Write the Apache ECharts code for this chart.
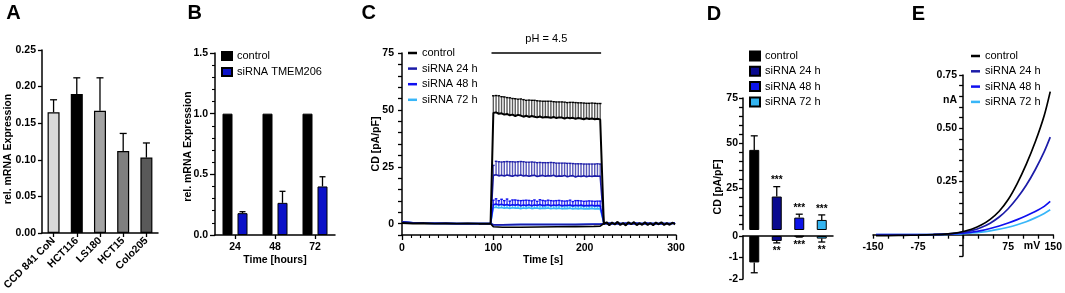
<!DOCTYPE html>
<html>
<head>
<meta charset="utf-8">
<script src="https://cdn.jsdelivr.net/npm/echarts@6/dist/echarts.min.js"></script>
<style>
  html, body { margin: 0; padding: 0; background: #fff; }
  #chart { width: 1065px; height: 293px; }
</style>
</head>
<body>
<div id="chart"></div>
<script>
// ---- A: TMEM206 expression in cell lines
const cellLines = ["CCD 841 CoN", "HCT116", "LS180", "HCT15", "Colo205"];
const cellExpr = [0.165, 0.19, 0.167, 0.112, 0.103];
const cellErr = [0.017, 0.022, 0.045, 0.024, 0.02];

// ---- B: knockdown time course
const hours = ["24", "48", "72"];
const ctrlExpr = [1, 1, 1];
const sirnaExpr = [0.18, 0.265, 0.4];
const sirnaErr = [0.012, 0.095, 0.08];

// ---- C: current density over time
const tPre = [0, 12, 24, 36, 48, 60, 72, 84, 97];
const tPulse = [100, 103, 106, 109, 112, 115, 118, 121, 124, 127, 130, 133, 136, 139, 142, 145, 148, 151, 154, 157,
  160, 163, 166, 169, 172, 175, 178, 181, 184, 187, 190, 193, 196, 199, 202, 205, 208, 211, 214, 217];
const tPost = [221, 224, 227, 230, 233, 236, 239, 242, 245, 248, 251, 254, 257, 260, 263, 266, 269, 272, 275, 278,
  281, 284, 287, 290, 293, 296, 299];

const ctrlPre = [0.3, 0.1, 0.2, 0.0, 0.1, 0.0, 0.1, 0.0, 0.0];
const siPre = [0.8, 0.4, 0.2, 0.1, 0.1, 0.0, 0.0, 0.0, 0.0];
const ctrlPost = [-0.3, 0.6, -0.7, 0.5, -0.4, 0.8, -0.6, 0.3, -0.8, 0.6, -0.3, 0.7, -0.7, 0.2, -0.5, 0.6, -0.6, 0.3,
  -0.7, 0.5, -0.3, 0.6, -0.6, 0.2, -0.5, 0.4, -0.3];
const siPost = [0.2, 0.0, 0.1, 0.0, 0.0, 0.1, 0.0, 0.0, 0.1, 0.0, 0.0, 0.0, 0.1, 0.0, 0.0, 0.0, 0.1, 0.0, 0.0, 0.0,
  0.0, 0.1, 0.0, 0.0, 0.0, 0.1, 0.3];

const ctrlPulse = [48.6, 48.9, 48.3, 48.5, 47.9, 48.2, 47.6, 47.9, 47.3, 47.8, 47.5, 47.0, 47.4, 46.9, 47.3, 47.0, 46.7,
  47.1, 46.6, 46.9, 46.8, 46.5, 46.9, 46.4, 46.7, 46.6, 46.2, 46.6, 46.3, 46.5, 46.1, 46.4, 46.2, 45.9, 46.3, 46.0,
  46.2, 45.9, 46.1, 45.8];
const ctrlPulseErr = [7.6, 7.4, 7.9, 7.3, 7.8, 7.2, 7.7, 7.1, 7.6, 6.9, 7.3, 7.5, 6.8, 7.4, 6.9, 7.2, 7.3, 6.8, 7.2,
  6.9, 7.0, 7.3, 6.7, 7.1, 6.8, 6.9, 7.2, 6.6, 7.0, 6.8, 7.1, 6.7, 6.9, 7.1, 6.6, 6.9, 6.8, 7.0, 6.7, 7.0];
const si24Pulse = [21.2, 21.5, 21.0, 21.3, 20.9, 21.4, 21.1, 20.8, 21.3, 21.0, 21.4, 20.9, 21.2, 20.8, 21.1, 21.3, 20.7,
  21.0, 21.2, 20.8, 21.1, 20.9, 21.3, 20.7, 21.0, 20.8, 21.2, 20.6, 20.9, 21.1, 20.5, 20.9, 20.7, 21.0, 20.6, 20.9,
  20.7, 21.0, 20.8, 20.9];
const si24PulseErr = [4.4, 5.9, 6.2, 5.8, 6.3, 5.9, 6.1, 6.4, 5.8, 6.2, 5.9, 6.3, 5.8, 6.2, 6.0, 5.7, 6.1, 5.9, 5.6,
  6.0, 5.7, 6.0, 5.5, 5.9, 5.6, 5.8, 5.4, 5.9, 5.6, 5.3, 5.8, 5.4, 5.6, 5.2, 5.6, 5.3, 5.5, 5.2, 5.5, 5.3];
const si48Pulse = [8.3, 8.6, 8.2, 8.5, 8.1, 8.4, 8.0, 8.3, 8.1, 8.4, 7.9, 8.2, 8.0, 8.3, 7.9, 8.2, 8.0, 8.4, 7.9, 8.1,
  8.3, 7.9, 8.2, 8.0, 8.3, 7.8, 8.1, 8.0, 8.2, 7.8, 8.1, 7.9, 8.2, 7.8, 8.0, 7.9, 8.1, 7.8, 8.0, 7.9];
const si48PulseErr = [2.0, 2.3, 1.9, 2.2, 2.0, 2.4, 1.9, 2.1, 2.3, 1.8, 2.2, 2.0, 2.3, 1.9, 2.1, 2.2, 1.8, 2.1, 2.3,
  1.9, 2.0, 2.2, 1.8, 2.1, 1.9, 2.2, 1.8, 2.0, 2.1, 1.9, 2.0, 2.2, 1.8, 2.0, 1.9, 2.1, 1.8, 2.0, 1.9, 2.0];
const si72Pulse = [7.0, 7.2, 6.9, 7.1, 6.8, 7.0, 6.7, 7.0, 6.8, 6.9, 6.6, 6.9, 6.7, 7.0, 6.6, 6.8, 6.9, 6.6, 6.8, 6.7,
  6.9, 6.5, 6.8, 6.6, 6.8, 6.5, 6.7, 6.6, 6.8, 6.4, 6.7, 6.5, 6.7, 6.4, 6.6, 6.5, 6.7, 6.4, 6.6, 6.5];
const si72PulseErr = [1.3, 1.1, 1.4, 1.2, 1.3, 1.0, 1.3, 1.2, 1.4, 1.1, 1.3, 1.2, 1.0, 1.3, 1.2, 1.4, 1.1, 1.2, 1.3,
  1.0, 1.2, 1.3, 1.1, 1.2, 1.0, 1.3, 1.1, 1.2, 1.0, 1.2, 1.1, 1.3, 1.0, 1.1, 1.2, 1.0, 1.1, 1.2, 1.0, 1.1];

// inward current during the pulse
const tNeg = [97, 100, 110, 130, 150, 170, 190, 210, 217, 221];
const ctrlNeg = [0, -1.4, -1.6, -1.6, -1.5, -1.4, -1.3, -1.2, -1.1, 0];
const siNeg = [0, -0.5, -0.5, -0.4, -0.4, -0.4, -0.4, -0.3, -0.3, 0];
const pHOn = 98, pHOff = 218;

// ---- D: summary of current density
const groups = ["control", "siRNA 24 h", "siRNA 48 h", "siRNA 72 h"];
const dOut = [46.2, 20.3, 8.6, 7.3];
const dOutErr = [7.8, 5.5, 1.9, 2.8];
const dIn = [-1.23, -0.23, -0.03, -0.12];
const dInErr = [-0.48, -0.09, -0.02, -0.16];
const starsOut = ["", "***", "***", "***"];
const starsIn = ["", "**", "***", "**"];

// ---- E: I/V curves
const mV = [-145, -125, -100, -75, -50, -25, -10, 0, 15, 30, 45, 60, 75, 90, 105, 120, 135, 145];
const ivCtrl = [-0.004, -0.004, -0.003, -0.002, 0.0, 0.004, 0.009, 0.015, 0.027, 0.045, 0.072, 0.11, 0.165, 0.24,
  0.33, 0.435, 0.56, 0.672];
const iv24 = [-0.002, -0.002, -0.002, -0.001, 0.001, 0.004, 0.008, 0.012, 0.02, 0.034, 0.054, 0.083, 0.122, 0.172,
  0.232, 0.305, 0.39, 0.458];
const iv48 = [0, 0, 0, 0, 0.001, 0.003, 0.005, 0.007, 0.012, 0.019, 0.029, 0.041, 0.055, 0.071, 0.089, 0.109, 0.133,
  0.156];
const iv72 = [0, 0, 0, 0, 0.001, 0.002, 0.003, 0.005, 0.008, 0.012, 0.018, 0.026, 0.035, 0.047, 0.061, 0.079, 0.1,
  0.117];

// tick positions for the broken / offset axes
const cTicks = [-5, 0, 5, 10, 15, 20, 25, 30, 35, 40, 45, 50, 55, 60, 65, 70, 75];
const dTicks = [5, 10, 15, 20, 25, 30, 35, 40, 45, 50, 55, 60, 65, 70, 75];
const eTicks = [-0.1, -0.05, 0.05, 0.1, 0.15, 0.2, 0.25, 0.3, 0.35, 0.4, 0.45, 0.5, 0.55, 0.6, 0.65, 0.7, 0.75];

// styles
const FONT = "Liberation Sans, Arial, Helvetica, sans-serif";
const cellColors = ["#d9d9d9", "#000000", "#a3a3a3", "#7f7f7f", "#595959"];
const traceColors = ["#000000", "#1c1ca8", "#1010f0", "#38b6f8"];
const stemColors = ["#5c5c5c", "#5656b8", "#3a3af0", "#5cc4f8"];
const barColors = ["#000000", "#0a0a8f", "#0d14e8", "#33b4f0"];
const blueB = "#0c12c8";

const axLine = { show: true, onZero: true, lineStyle: { color: "#000", width: 1.5 } };
const lbl = { color: "#000", fontFamily: FONT, fontWeight: "bold", fontSize: 10.5 };
const tk = (len, extra) => Object.assign({ show: true, length: len, lineStyle: { color: "#000", width: 1.3 } }, extra || {});
const noSplit = { show: false };

function errorBars(capW, color, offset, width, stem) {
  return function (params, api) {
    const x = api.value(0), v = api.value(1), e = api.value(2);
    const p0 = api.coord([x, v]);
    const p1 = api.coord([x, v + e]);
    const cx = p0[0] + (offset || 0);
    const w = width || 1.3;
    return {
      type: "group",
      children: [
        { type: "line", shape: { x1: cx, y1: p0[1], x2: cx, y2: p1[1] }, style: { stroke: stem || color, lineWidth: w } },
        { type: "line", shape: { x1: cx - capW / 2, y1: p1[1], x2: cx + capW / 2, y2: p1[1] }, style: { stroke: color, lineWidth: w } }
      ]
    };
  };
}

function starLabels(texts, below) {
  return function (params, api) {
    const p = api.coord([api.value(0), api.value(1)]);
    return {
      type: "text",
      x: p[0],
      y: below ? p[1] + 3 : p[1] - 1,
      style: {
        text: texts[params.dataIndex], fill: "#000", font: "bold 10px " + FONT,
        align: "center", verticalAlign: below ? "top" : "bottom"
      }
    };
  };
}

const series = [];

// A
series.push({
  type: "bar", xAxisIndex: 0, yAxisIndex: 0, barWidth: 12,
  data: cellExpr.map((v, i) => ({ value: v, itemStyle: { color: cellColors[i] } })),
  itemStyle: { borderColor: "#000", borderWidth: 1.2 }
});
series.push({
  type: "custom", xAxisIndex: 0, yAxisIndex: 0, z: 5,
  renderItem: errorBars(7, "#000"),
  data: cellExpr.map((v, i) => [i, v, cellErr[i]])
});

// B
series.push({
  name: "B|control", type: "bar", xAxisIndex: 1, yAxisIndex: 1, barWidth: 10, barGap: "50%",
  data: ctrlExpr, itemStyle: { color: "#000", borderColor: "#000", borderWidth: 1 }
});
series.push({
  name: "B|siRNA TMEM206", type: "bar", xAxisIndex: 1, yAxisIndex: 1, barWidth: 10, barGap: "50%",
  data: sirnaExpr, itemStyle: { color: blueB, borderColor: "#000", borderWidth: 1 }
});
series.push({
  type: "custom", xAxisIndex: 1, yAxisIndex: 1, z: 5,
  renderItem: errorBars(6, "#000", 7.5),
  data: sirnaExpr.map((v, i) => [i, v, sirnaErr[i]])
});

// C
const cTraces = [
  { name: "control", pre: ctrlPre, pulse: ctrlPulse, err: ctrlPulseErr, post: ctrlPost, neg: ctrlNeg },
  { name: "siRNA 24 h", pre: siPre, pulse: si24Pulse, err: si24PulseErr, post: siPost, neg: siNeg },
  { name: "siRNA 48 h", pre: siPre, pulse: si48Pulse, err: si48PulseErr, post: siPost, neg: siNeg },
  { name: "siRNA 72 h", pre: siPre, pulse: si72Pulse, err: si72PulseErr, post: siPost, neg: siNeg }
];
const tAll = tPre.concat(tPulse, tPost);
[3, 2, 1, 0].forEach((k) => {
  const tr = cTraces[k];
  const col = traceColors[k];
  const vals = tr.pre.concat(tr.pulse, tr.post);
  series.push({
    type: "custom", xAxisIndex: 2, yAxisIndex: 2, z: 2,
    renderItem: errorBars(2.6, col, 0, 1.4, stemColors[k]),
    data: tPulse.map((t, i) => [t, tr.pulse[i], tr.err[i]])
  });
  series.push({
    type: "line", xAxisIndex: 2, yAxisIndex: 2, showSymbol: false, symbol: "none", z: 3,
    lineStyle: { color: col, width: 1.6 },
    data: tNeg.map((t, i) => [t, tr.neg[i]])
  });
  series.push({
    name: "C|" + tr.name, type: "line", xAxisIndex: 2, yAxisIndex: 2, showSymbol: false, symbol: "none", z: 4,
    color: col, lineStyle: { color: col, width: k === 0 ? 2 : 1.6 },
    data: tAll.map((t, i) => [t, vals[i]])
  });
});

// D
groups.forEach((g, i) => {
  series.push({
    name: "D|" + g, type: "bar", xAxisIndex: 3, yAxisIndex: 3, barWidth: 10, barGap: "-100%", clip: true,
    data: dOut.map((v, j) => (j === i ? v : "-")),
    itemStyle: { color: barColors[i], borderColor: "#000", borderWidth: 1 }
  });
  series.push({
    name: "d|" + g, type: "bar", xAxisIndex: 4, yAxisIndex: 4, barWidth: 10, barGap: "-100%",
    data: dIn.map((v, j) => (j === i ? v : "-")),
    itemStyle: { color: barColors[i], borderColor: "#000", borderWidth: 1 }
  });
});
series.push({
  type: "custom", xAxisIndex: 3, yAxisIndex: 3, z: 5, renderItem: errorBars(7, "#000"),
  data: dOut.map((v, i) => [i, v, dOutErr[i]])
});
series.push({
  type: "custom", xAxisIndex: 4, yAxisIndex: 4, z: 5, renderItem: errorBars(7, "#000"),
  data: dIn.map((v, i) => [i, v, dInErr[i]])
});
series.push({
  type: "custom", xAxisIndex: 3, yAxisIndex: 3, z: 6, renderItem: starLabels(starsOut, false),
  data: dOut.map((v, i) => [i, v + dOutErr[i]])
});
series.push({
  type: "custom", xAxisIndex: 4, yAxisIndex: 4, z: 6, renderItem: starLabels(starsIn, true),
  data: dIn.map((v, i) => [i, v + dInErr[i]])
});

// E
[[ivCtrl, 0], [iv24, 1], [iv48, 2], [iv72, 3]].forEach(([arr, k]) => {
  series.push({
    name: "E|" + groups[k], type: "line", xAxisIndex: 5, yAxisIndex: 5, smooth: 0.3,
    showSymbol: false, symbol: "none", z: 10 - k, color: traceColors[k],
    lineStyle: { color: traceColors[k], width: 1.7 },
    data: mV.map((x, i) => [x, arr[i]])
  });
});

const legendBase = {
  orient: "vertical", padding: 0, icon: "rect", selectedMode: false,
  formatter: (n) => n.slice(2),
  textStyle: { color: "#000", fontFamily: FONT, fontSize: 11, lineHeight: 12 }
};

const option = {
  animation: false,
  backgroundColor: "#fff",
  textStyle: { fontFamily: FONT },
  grid: [
    { left: 39, top: 50, width: 119, height: 183 },
    { left: 215, top: 53, width: 120, height: 182 },
    { left: 402, top: 53, width: 274, height: 182 },
    { left: 743, top: 98, width: 90, height: 131.5 },
    { left: 743, top: 236, width: 90, height: 43 },
    { left: 873, top: 75, width: 181, height: 181 }
  ],
  legend: [
    Object.assign({}, legendBase, { left: 221, top: 50, itemWidth: 10, itemHeight: 8, itemGap: 4,
      data: ["B|control", "B|siRNA TMEM206"] }),
    Object.assign({}, legendBase, { left: 408, top: 47, itemWidth: 9, itemHeight: 2.5, itemGap: 3.6,
      data: groups.map((g) => "C|" + g) }),
    Object.assign({}, legendBase, { left: 749, top: 50, itemWidth: 10, itemHeight: 9, itemGap: 3.3,
      data: groups.map((g) => "D|" + g) }),
    Object.assign({}, legendBase, { left: 971, top: 50, itemWidth: 9, itemHeight: 2.5, itemGap: 3.3,
      data: groups.map((g) => "E|" + g) })
  ],
  xAxis: [
    { gridIndex: 0, type: "category", data: cellLines, axisLine: axLine,
      axisTick: tk(4, { alignWithLabel: true }), axisLabel: Object.assign({}, lbl, { rotate: 45, margin: 6, interval: 0 }) },
    { gridIndex: 1, type: "category", data: hours, axisLine: axLine,
      axisTick: tk(4, { alignWithLabel: true }), axisLabel: Object.assign({}, lbl, { margin: 7 }) },
    { gridIndex: 2, type: "value", min: 0, max: 300, interval: 100,
      axisLine: Object.assign({}, axLine, { onZero: false }), axisTick: tk(5),
      minorTick: { show: true, splitNumber: 10, length: 3, lineStyle: { color: "#000", width: 1.1 } },
      splitLine: noSplit, minorSplitLine: noSplit, axisLabel: Object.assign({}, lbl, { margin: 8 }) },
    { gridIndex: 3, type: "category", data: groups, show: false },
    { gridIndex: 4, type: "category", data: groups, axisLine: axLine,
      axisTick: { show: false }, axisLabel: { show: false } },
    // labels of this axis stay at the grid edge, so pull them up to the zero line
    { gridIndex: 5, type: "value", min: -150, max: 150, interval: 25, axisLine: axLine, axisTick: tk(4),
      splitLine: noSplit,
      axisLabel: Object.assign({}, lbl, { margin: -14,
        formatter: (v) => ([-150, -75, 75, 150].indexOf(v) >= 0 ? String(v) : "") }) }
  ],
  yAxis: [
    { gridIndex: 0, type: "value", min: 0, max: 0.25, interval: 0.05, axisLine: axLine, axisTick: tk(4),
      splitLine: noSplit, axisLabel: Object.assign({}, lbl, { margin: 6, formatter: (v) => v.toFixed(2) }) },
    { gridIndex: 1, type: "value", min: 0, max: 1.5, interval: 0.5, axisLine: axLine, axisTick: tk(5),
      minorTick: { show: true, splitNumber: 5, length: 3, lineStyle: { color: "#000", width: 1.1 } },
      splitLine: noSplit, minorSplitLine: noSplit,
      axisLabel: Object.assign({}, lbl, { margin: 7, formatter: (v) => v.toFixed(1) }) },
    { gridIndex: 2, type: "value", min: -5, max: 75, axisLine: axLine,
      axisTick: tk(4, { customValues: cTicks }), splitLine: noSplit,
      axisLabel: Object.assign({}, lbl, { margin: 8, customValues: [0, 25, 50, 75] }) },
    { gridIndex: 3, type: "value", min: 2, max: 75, axisLine: axLine,
      axisTick: tk(4, { customValues: dTicks }), splitLine: noSplit,
      axisLabel: Object.assign({}, lbl, { margin: 5, customValues: [25, 50, 75] }) },
    { gridIndex: 4, type: "value", min: -2, max: 0, interval: 1, axisLine: axLine, axisTick: tk(4),
      splitLine: noSplit, axisLabel: Object.assign({}, lbl, { margin: 5 }) },
    { gridIndex: 5, type: "value", min: -0.1, max: 0.75, axisLine: axLine,
      axisTick: tk(4, { customValues: eTicks }), splitLine: noSplit,
      axisLabel: Object.assign({}, lbl, { margin: -84, customValues: [0.25, 0.5, 0.75],
        formatter: (v) => v.toFixed(2) }) }
  ],
  series: series
};

const chart = echarts.init(document.getElementById("chart"));
chart.setOption(option);

// annotations
const bold = (s) => "bold " + s + "px " + FONT;
const txt = (text, x, y, font, rot) => ({
  type: "text", x: x, y: y, rotation: rot || 0, z: 100,
  style: { text: text, font: font, fill: "#000", align: "center", verticalAlign: "middle" }
});
const pA = chart.convertToPixel({ gridIndex: 2 }, [pHOn, 75]);
const pB = chart.convertToPixel({ gridIndex: 2 }, [pHOff, 75]);
const graphics = [
  txt("A", 13.5, 13, bold(20)),
  txt("B", 194.7, 13, bold(20)),
  txt("C", 368.8, 13, bold(20)),
  txt("D", 714, 14, bold(20)),
  txt("E", 918.3, 14, bold(20)),
  txt("rel. mRNA Expression", 8, 149, bold(10.5), Math.PI / 2),
  txt("rel. mRNA Expression", 188, 146.5, bold(10.5), Math.PI / 2),
  txt("CD [pA/pF]", 376, 144, bold(10.5), Math.PI / 2),
  txt("CD [pA/pF]", 718, 187, bold(10.5), Math.PI / 2),
  txt("Time [hours]", 275, 260, bold(10.5)),
  txt("Time [s]", 543, 260, bold(10.5)),
  txt("nA", 950, 100, bold(10.5)),
  txt("mV", 1032, 246, bold(10.5)),
  txt("pH = 4.5", (pA[0] + pB[0]) / 2, pA[1] - 14, "11px " + FONT),
  { type: "line", z: 100, shape: { x1: pA[0], y1: pA[1], x2: pB[0], y2: pB[1] },
    style: { stroke: "#000", lineWidth: 1.5 } }
];
chart.setOption({ graphic: graphics });
</script>
</body>
</html>
